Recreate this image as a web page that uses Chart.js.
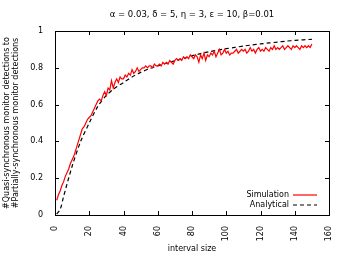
<!DOCTYPE html>
<html>
<head>
<meta charset="utf-8">
<script src="https://cdn.jsdelivr.net/npm/chart.js@4.4.1/dist/chart.umd.min.js"></script>
<style>
  html, body { margin: 0; padding: 0; background: #fff; }
  #wrap { width: 346px; height: 260px; }
</style>
</head>
<body>
<div id="wrap"><canvas id="c" width="346" height="260"></canvas></div>
<script>
// values
const chartTitle = 'α = 0.03, δ = 5, η = 3, ε = 10, β=0.01';
const xTicks = [0, 20, 40, 60, 80, 100, 120, 140, 160];
const yTicks = [0, 0.2, 0.4, 0.6, 0.8, 1];

const simX = [];
for (let i = 1; i <= 150; i++) simX.push(i);
const simY = [
  0.08, 0.11, 0.13, 0.16, 0.18, 0.21, 0.23, 0.25, 0.28, 0.30,
  0.32, 0.35, 0.38, 0.41, 0.44, 0.47, 0.48, 0.50, 0.52, 0.53,
  0.54, 0.56, 0.58, 0.60, 0.62, 0.63, 0.62, 0.65, 0.67, 0.65,
  0.69, 0.68, 0.73, 0.69, 0.72, 0.74, 0.72, 0.75, 0.74, 0.74,
  0.76, 0.75, 0.77, 0.76, 0.79, 0.77, 0.78, 0.80, 0.78, 0.79,
  0.80, 0.80, 0.81, 0.80, 0.81, 0.81, 0.80, 0.82, 0.81, 0.81,
  0.82, 0.81, 0.83, 0.82, 0.83, 0.82, 0.84, 0.83, 0.82, 0.84,
  0.85, 0.84, 0.85, 0.84, 0.86, 0.85, 0.86, 0.85, 0.87, 0.86,
  0.85, 0.87, 0.86, 0.83, 0.87, 0.85, 0.88, 0.84, 0.87, 0.86,
  0.88, 0.87, 0.89, 0.86, 0.88, 0.90, 0.87, 0.88, 0.90, 0.88,
  0.89, 0.87, 0.88, 0.88, 0.89, 0.90, 0.88, 0.89, 0.90, 0.89,
  0.90, 0.88, 0.89, 0.91, 0.89, 0.90, 0.88, 0.90, 0.91, 0.89,
  0.90, 0.89, 0.91, 0.90, 0.89, 0.91, 0.90, 0.92, 0.90, 0.91,
  0.90, 0.91, 0.92, 0.90, 0.91, 0.92, 0.91, 0.90, 0.92, 0.91,
  0.92, 0.91, 0.90, 0.92, 0.91, 0.92, 0.91, 0.92, 0.91, 0.93
];

const anaX = [1, 3, 5, 10, 15, 20, 25, 30, 35, 40, 45, 50, 55, 60, 65, 70, 75,
  80, 85, 90, 95, 100, 105, 110, 115, 120, 125, 130, 135, 140, 145, 150];
const anaY = [0.005, 0.03, 0.10, 0.265, 0.40, 0.50, 0.59, 0.65, 0.69, 0.72,
  0.75, 0.775, 0.795, 0.81, 0.825, 0.838, 0.85, 0.865, 0.877, 0.887, 0.896,
  0.904, 0.911, 0.918, 0.924, 0.93, 0.935, 0.94, 0.945, 0.949, 0.952, 0.955];

const FONT = 'DejaVu Sans';
const toPts = (xs, ys) => xs.map((x, i) => ({ x: x, y: ys[i] }));

// frame, inward ticks on all four sides, legend inside, title on top
const gnuplotFrame = {
  id: 'gnuplotFrame',
  afterDraw(chart) {
    const ctx = chart.ctx;
    const a = chart.chartArea;
    const xs = chart.scales.x, ys = chart.scales.y;
    ctx.save();
    ctx.strokeStyle = '#000';
    ctx.lineWidth = 1;
    ctx.strokeRect(Math.round(a.left) + 0.5, Math.round(a.top) + 0.5,
      Math.round(a.right - a.left), Math.round(a.bottom - a.top));
    ctx.beginPath();
    xTicks.forEach(v => {
      const px = Math.round(xs.getPixelForValue(v)) + 0.5;
      ctx.moveTo(px, a.bottom); ctx.lineTo(px, a.bottom - 4);
      ctx.moveTo(px, a.top); ctx.lineTo(px, a.top + 4);
    });
    yTicks.forEach(v => {
      const py = Math.round(ys.getPixelForValue(v)) + 0.5;
      ctx.moveTo(a.left, py); ctx.lineTo(a.left + 4, py);
      ctx.moveTo(a.right, py); ctx.lineTo(a.right - 4, py);
    });
    ctx.stroke();

    // legend
    ctx.font = '8px "' + FONT + '"';
    ctx.fillStyle = '#000';
    ctx.textAlign = 'right';
    ctx.textBaseline = 'middle';
    const lx = a.right - 40, rows = [a.bottom - 20, a.bottom - 10];
    chart.data.datasets.forEach((ds, i) => {
      ctx.fillText(ds.label, lx, rows[i]);
      ctx.beginPath();
      ctx.strokeStyle = ds.borderColor;
      ctx.lineWidth = ds.borderWidth;
      ctx.setLineDash(ds.borderDash || []);
      ctx.moveTo(lx + 4, rows[i]); ctx.lineTo(lx + 28, rows[i]);
      ctx.stroke();
    });
    ctx.setLineDash([]);

    // title
    ctx.textAlign = 'center';
    ctx.fillStyle = '#000';
    ctx.font = '8.5px "' + FONT + '"';
    ctx.fillText(chartTitle, (a.left + a.right) / 2, 15);
    ctx.restore();
  }
};

new Chart(document.getElementById('c'), {
  type: 'line',
  data: {
    datasets: [{
      label: 'Simulation',
      data: toPts(simX, simY),
      borderColor: '#ff0000',
      borderWidth: 1.2,
      pointRadius: 0,
      tension: 0,
      fill: false
    }, {
      label: 'Analytical',
      data: toPts(anaX, anaY),
      borderColor: '#000000',
      borderWidth: 1.2,
      borderDash: [4, 3],
      pointRadius: 0,
      tension: 0.3,
      fill: false
    }]
  },
  options: {
    responsive: false,
    animation: false,
    layout: { padding: { top: 31, right: 17, left: 2, bottom: 0 } },
    plugins: {
      legend: { display: false },
      tooltip: { enabled: false }
    },
    scales: {
      x: {
        type: 'linear',
        min: 0, max: 160,
        afterBuildTicks: s => { s.ticks = xTicks.map(v => ({ value: v })); },
        afterFit: s => { s.height = 45; },
        grid: { display: false },
        border: { display: false },
        ticks: {
          color: '#000',
          font: { family: FONT, size: 8 },
          minRotation: 90, maxRotation: 90,
          padding: 3
        },
        title: {
          display: true,
          text: 'interval size',
          color: '#000',
          font: { family: FONT, size: 8 },
          padding: { top: 0, bottom: 6 }
        }
      },
      y: {
        min: 0, max: 1,
        afterBuildTicks: s => { s.ticks = yTicks.map(v => ({ value: v })); },
        afterFit: s => { s.width = 53; },
        grid: { display: false },
        border: { display: false },
        ticks: {
          color: '#000',
          font: { family: FONT, size: 8 },
          padding: 4,
          callback: v => String(v)
        },
        title: {
          display: true,
          text: ['#Quasi-synchronous monitor detections to', '#Partially-synchronous monitor detections'],
          color: '#000',
          font: { family: FONT, size: 8, lineHeight: 1.2 },
          padding: { top: 0, bottom: 0 }
        }
      }
    }
  },
  plugins: [gnuplotFrame]
});
</script>
</body>
</html>
